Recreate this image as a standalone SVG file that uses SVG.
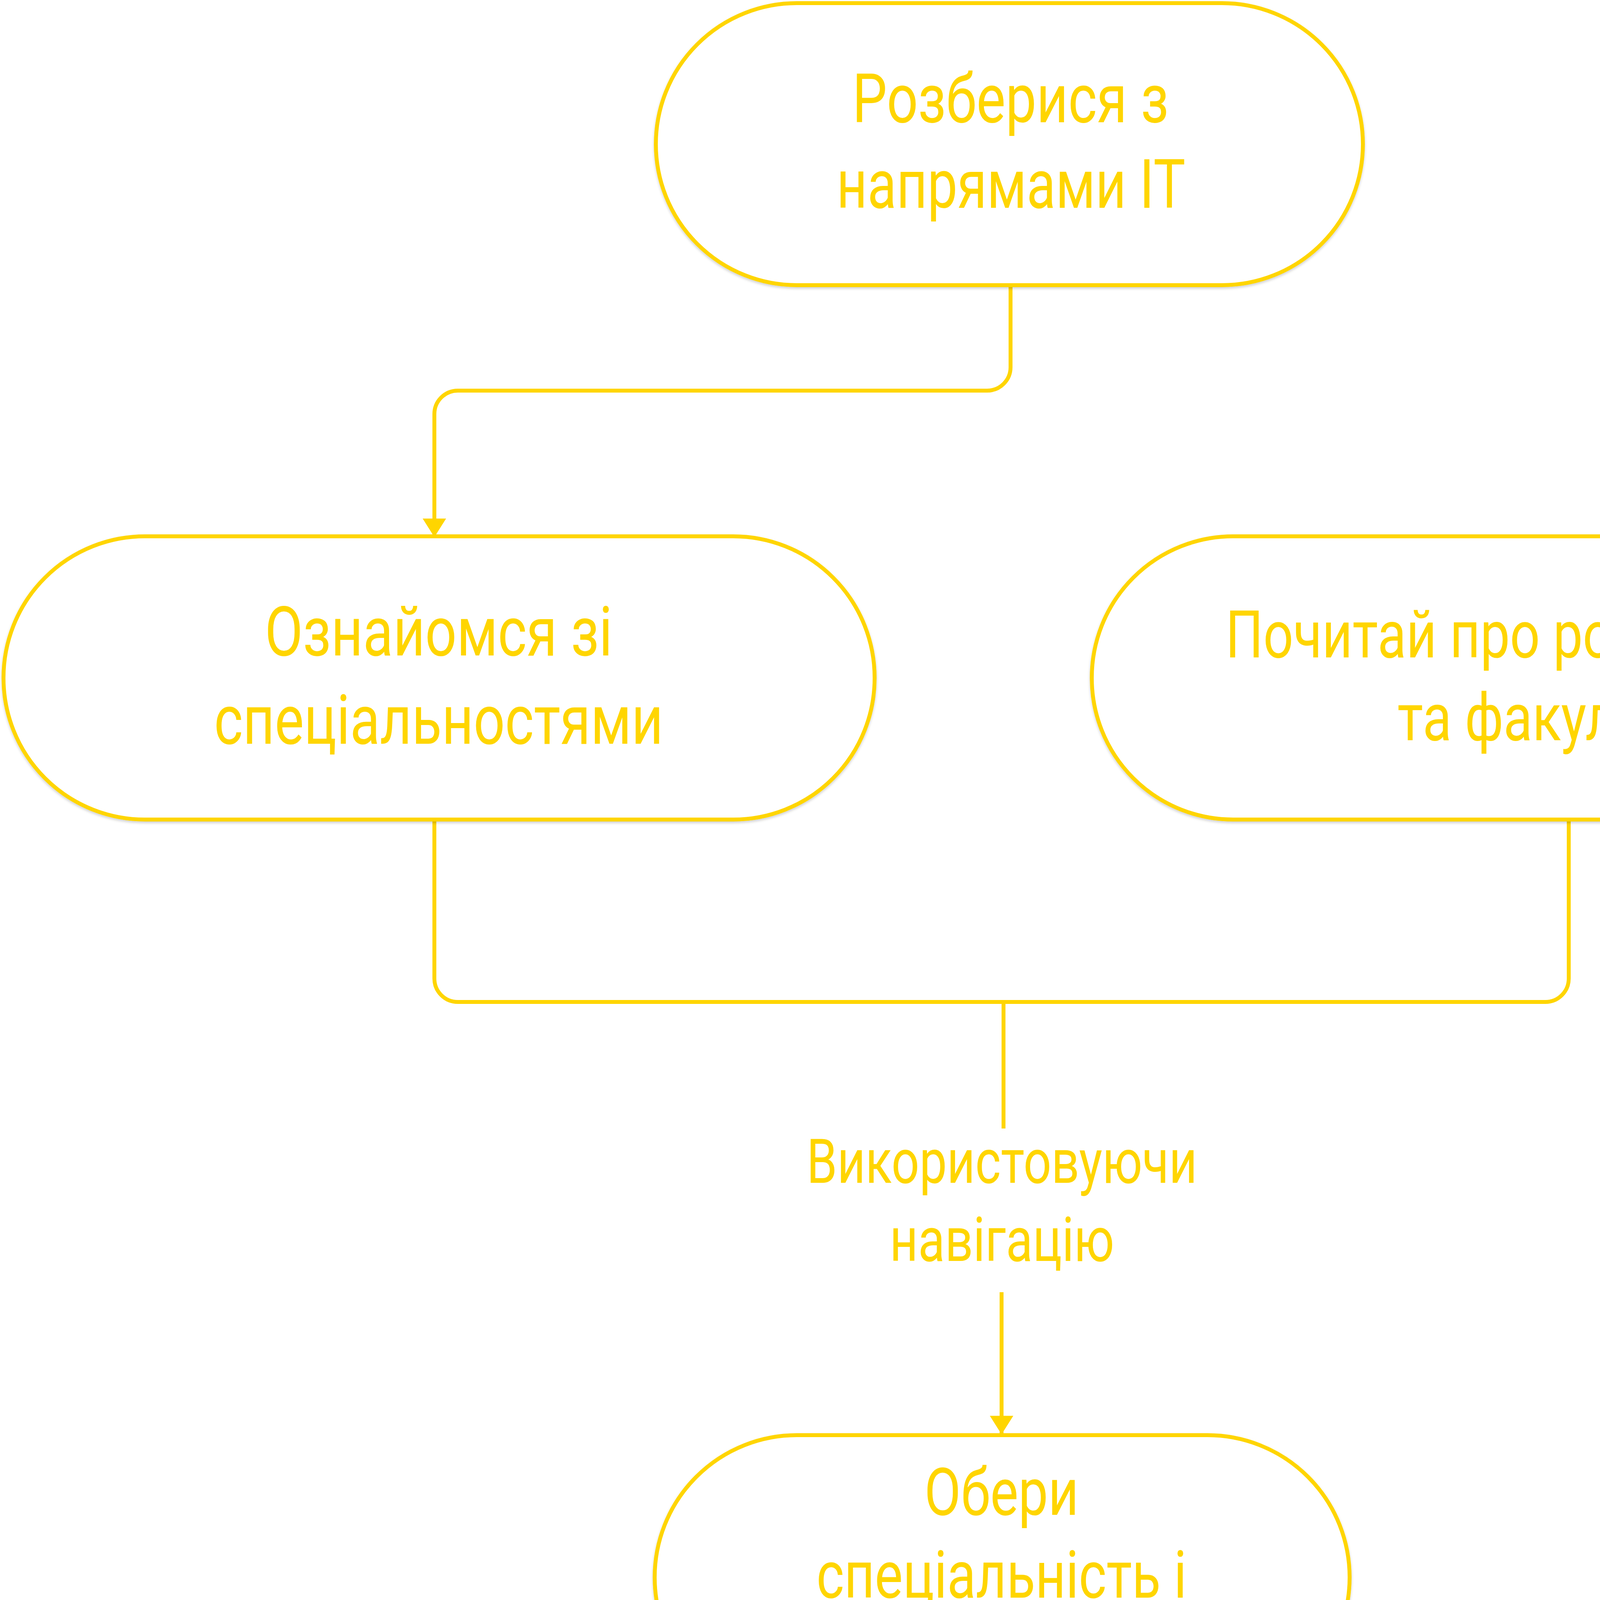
<svg xmlns="http://www.w3.org/2000/svg" width="5280" height="4412" viewBox="0 0 5280 4412">
  <style>
    .node { fill: #FFFFFF; stroke: #FFD500; stroke-width: 10; filter: url(#sh); }
    .t { fill: #FFD500; font-family: Roboto, "Noto Sans", "Liberation Sans", sans-serif; font-weight: 400; text-anchor: middle; }
    .edge { fill: none; stroke: #FFD500; stroke-width: 10; }
  </style>
  <defs>
    <filter id="sh" x="-5%" y="-5%" width="110%" height="115%">
      <feDropShadow dx="0" dy="4" stdDeviation="3" flood-color="#000000" flood-opacity="0.18"/>
    </filter>
    <marker id="arr" markerUnits="userSpaceOnUse" markerWidth="60" markerHeight="60" viewBox="0 0 46 58" refX="46" refY="29" orient="auto">
      <path d="M0,0 L46,29 L0,58 Z" fill="#FFD500"/>
    </marker>
  </defs>
  <rect width="5280" height="4412" fill="#FFFFFF"/>

  <g id="connectors">
    <path class="edge" d="M2587,730 V940 A60,60 0 0 1 2527,1000 H1172 A60,60 0 0 0 1112,1060 V1375" marker-end="url(#arr)"/>
    <path class="edge" d="M1112,2098 V2505 A60,60 0 0 0 1172,2565 H3956 A60,60 0 0 0 4016,2505 V2098"/>
    <path class="edge" d="M2569,2565 V2889"/>
    <path class="edge" d="M2564,3308 V3672" marker-end="url(#arr)"/>
    <g id="edge-label">
      <text class="t" font-size="158" x="2565" y="3028" textLength="1000" lengthAdjust="spacingAndGlyphs">Використовуючи</text>
      <text class="t" font-size="158" x="2565" y="3228" textLength="575" lengthAdjust="spacingAndGlyphs">навігацію</text>
    </g>
  </g>

  <g id="node-1">
    <rect class="node" x="1679" y="8" width="1810" height="722" rx="361" ry="361"/>
    <text class="t" font-size="174" x="2587" y="313" textLength="810" lengthAdjust="spacingAndGlyphs">Розберися з</text>
    <text class="t" font-size="174" x="2588" y="532" textLength="893" lengthAdjust="spacingAndGlyphs">напрямами IT</text>
  </g>

  <g id="node-2">
    <rect class="node" x="9" y="1373" width="2230" height="725" rx="362" ry="362"/>
    <text class="t" font-size="176" x="1123" y="1678" textLength="890" lengthAdjust="spacingAndGlyphs">Ознайомся зі</text>
    <text class="t" font-size="176" x="1123" y="1904" textLength="1150" lengthAdjust="spacingAndGlyphs">спеціальностями</text>
  </g>

  <g id="node-3">
    <rect class="node" x="2795" y="1373" width="2472" height="725" rx="362" ry="362"/>
    <text class="t" font-size="168" x="4036" y="1683" textLength="1797" lengthAdjust="spacingAndGlyphs">Почитай про розглянуті ЗВО</text>
    <text class="t" font-size="168" x="4030" y="1895" textLength="905" lengthAdjust="spacingAndGlyphs">та факультети</text>
  </g>

  <g id="node-4">
    <rect class="node" x="1676" y="3674" width="1779" height="728" rx="364" ry="364"/>
    <text class="t" font-size="168" x="2564" y="3878" textLength="395" lengthAdjust="spacingAndGlyphs">Обери</text>
    <text class="t" font-size="168" x="2564" y="4090" textLength="948" lengthAdjust="spacingAndGlyphs">спеціальність і</text>
    <text class="t" font-size="168" x="2569" y="4302" textLength="655" lengthAdjust="spacingAndGlyphs">факультет</text>
  </g>
</svg>
